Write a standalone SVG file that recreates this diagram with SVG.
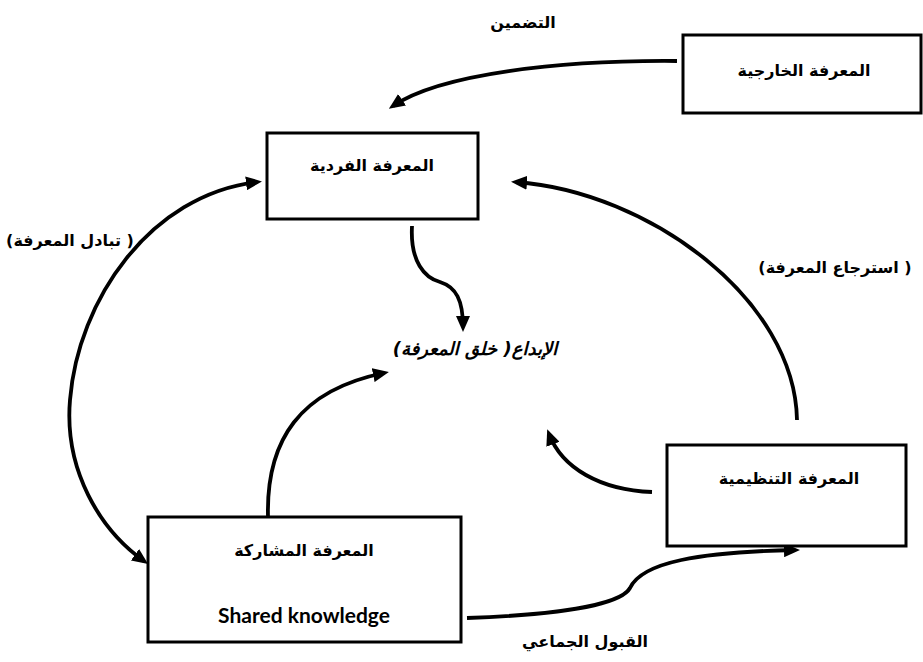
<svg xmlns="http://www.w3.org/2000/svg" width="923" height="662" viewBox="0 0 923 662">
<defs>
<marker id="ah" viewBox="0 0 16 14" markerWidth="16" markerHeight="14" refX="11" refY="7" markerUnits="userSpaceOnUse" orient="auto-start-reverse">
<path d="M0,0 L16,7 L0,14 z" fill="#000"/>
</marker>
<style>
.box{fill:#fff;stroke:#000;stroke-width:3}
.ar{font-family:"DejaVu Sans",sans-serif;font-weight:bold;font-size:16px;fill:#000;text-anchor:middle;direction:rtl}
.en{font-family:Lato,"Liberation Sans",sans-serif;font-weight:bold;font-size:21px;fill:#000;text-anchor:middle}
.it{font-style:italic;font-size:18px}
.c{fill:none;stroke:#000;stroke-width:3.8}
</style>
</defs>
<rect width="923" height="662" fill="#fff"/>
<g id="connectors">
<path class="c" d="M677,61 C560,60 440,74 393,106" marker-end="url(#ah)"/>
<path class="c" d="M257,182 C150,195 78,300 70,400 C64,470 100,530 144,561" marker-start="url(#ah)" marker-end="url(#ah)"/>
<path class="c" d="M412,226 C410,262 425,278 440,282 C456,287 463,300 463,327" marker-end="url(#ah)"/>
<path class="c" d="M797,420 C795,300 650,192 516,182" marker-end="url(#ah)"/>
<path class="c" d="M652,492 C600,490 562,468 549,434" marker-end="url(#ah)"/>
<path class="c" d="M268,517 C266,440 300,390 384,373" marker-end="url(#ah)"/>
<path class="c" d="M467,618 C550,615 620,606 630,588 C642,562 700,552 795,550" marker-end="url(#ah)"/>
</g>
<g id="labels">
<text class="ar" direction="rtl" x="523" y="28">التضمين</text>
<text class="ar" direction="rtl" x="70" y="246">( تبادل المعرفة)</text>
<text class="ar" direction="rtl" x="835" y="273">( استرجاع المعرفة)</text>
<text class="ar" direction="rtl" x="585" y="647">القبول الجماعي</text>
</g>
<g id="node-external">
<rect class="box" x="683" y="35" width="238" height="78"/>
<text class="ar" direction="rtl" x="804" y="76">المعرفة الخارجية</text>
</g>
<g id="node-individual">
<rect class="box" x="267" y="133" width="211" height="86"/>
<text class="ar" direction="rtl" x="372" y="171">المعرفة الفردية</text>
</g>
<g id="node-creativity">
<text class="ar it" direction="rtl" x="475" y="355">الإبداع( خلق المعرفة)</text>
</g>
<g id="node-organizational">
<rect class="box" x="667" y="445" width="239" height="101"/>
<text class="ar" direction="rtl" x="789" y="484">المعرفة التنظيمية</text>
</g>
<g id="node-shared">
<rect class="box" x="148" y="517" width="313" height="125"/>
<text class="ar" direction="rtl" x="304" y="556">المعرفة المشاركة</text>
<text class="en" x="304" y="623">Shared knowledge</text>
</g>
</svg>
